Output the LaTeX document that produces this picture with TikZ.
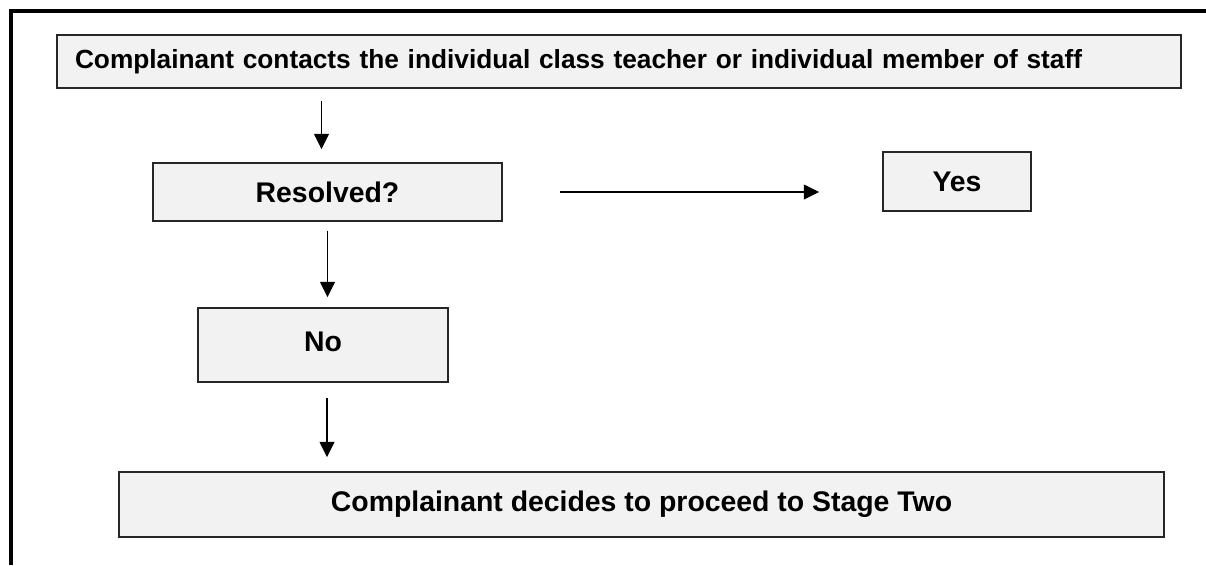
\documentclass[tikz,border=0pt]{standalone}
\usepackage{fontspec}
\setmainfont{Liberation Sans}
\usetikzlibrary{arrows.meta, calc}
\tikzset{
  stage box/.style={
    rectangle,
    draw=black!85,
    fill=black!5,
    line width=1.1pt,
    inner sep=0pt,
    font=\bfseries\fontsize{21.3}{25}\selectfont
  },
  flow/.style={
    -{Triangle[length=11.5pt, width=11pt]},
    line width=1.1pt,
    color=black
  },
  frame line/.style={
    line width=3pt,
    color=black
  }
}

\begin{document}
\begin{tikzpicture}[x=0.75pt, y=-0.75pt]

    % page frame (top and left edge)
    \useasboundingbox (0,0) rectangle (1206,565);
    \draw[frame line] (11,565) -- (11,11) -- (1206,11);

    % boxes
    \node[stage box, minimum width=843pt, minimum height=39.75pt,
          inner xsep=13.5pt, text width=816pt, align=left,
          font=\bfseries\fontsize{19.7}{24}\selectfont] (contact) at (619,61.5)
          {Complainant contacts the individual class teacher or individual member of staff};
    \node[stage box, minimum width=261.75pt, minimum height=43.5pt] (resolved) at (327.5,192) {Resolved?};
    \node[stage box, minimum width=111pt, minimum height=44.25pt] (yes) at (957,181.5) {Yes};
    \node[stage box, minimum width=187.5pt, minimum height=55.5pt] (no) at (323,345) {\raisebox{5pt}{No}};
    \node[stage box, minimum width=783.75pt, minimum height=48.75pt] (stagetwo) at (641.5,504.5)
          {Complainant decides to proceed to Stage Two};

    % arrows
    \draw[flow, shorten <=9pt, shorten >=9.75pt]
      ([xshift=-4.5pt]resolved.north |- contact.south) -- ([xshift=-4.5pt]resolved.north);
    \draw[flow, shorten <=42.75pt, shorten >=47.25pt]
      (resolved.east) -- (resolved.east -| yes.west);
    \draw[flow, shorten <=6.75pt, shorten >=7.5pt]
      (resolved.south) -- (resolved.south |- no.north);
    \draw[flow, shorten <=11.25pt, shorten >=10.5pt]
      ([xshift=3pt]no.south) -- ([xshift=3pt]no.south |- stagetwo.north);

\end{tikzpicture}
\end{document}
